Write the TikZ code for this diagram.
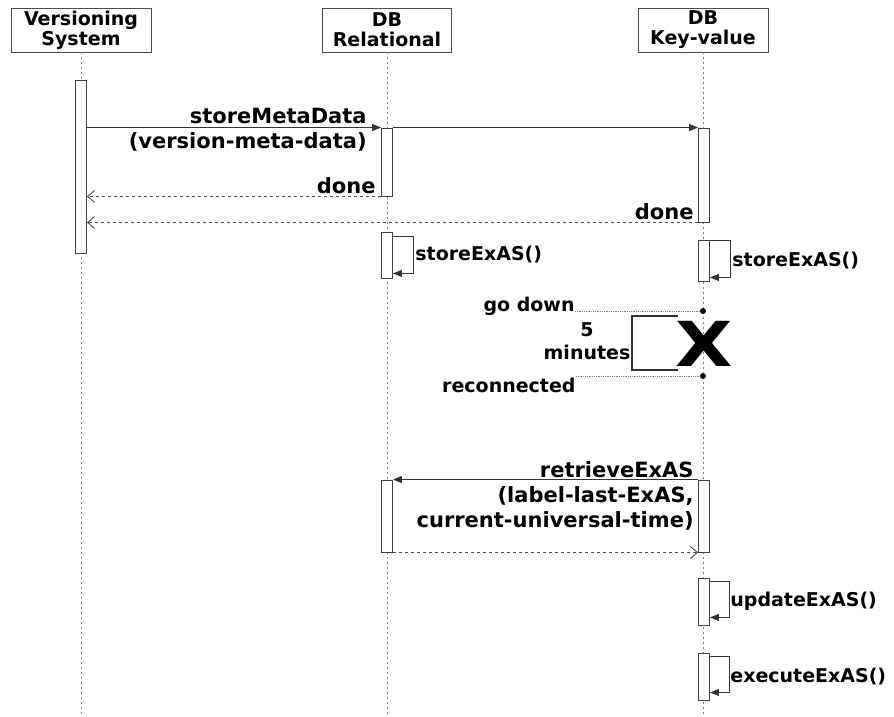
\documentclass[tikz,border=0pt]{standalone}
\usepackage{fontspec}
\setmainfont{DejaVu Sans}
\usepackage{tikz}
\usetikzlibrary{arrows.meta,positioning,calc}

\begin{document}
\begin{tikzpicture}[x=1pt,y=-1pt,line width=0.9pt,
    head/.style={draw=black!70,minimum width=#1,minimum height=44pt,inner sep=0pt,align=center,font=\fontsize{19}{20}\selectfont\bfseries},
    act/.style={draw=black!75,fill=white,minimum width=11pt,minimum height=#1,inner sep=0pt},
    life/.style={gray,dash pattern=on 2pt off 3pt},
    msg/.style={black!80,-{Triangle[length=9pt,width=7pt]}},
    ret/.style={black!70,dash pattern=on 3pt off 3pt,-{Straight Barb[length=7pt,width=12pt]}},
    lbl/.style={font=\fontsize{21}{25}\selectfont\bfseries,align=right,inner sep=0pt},
    small/.style={font=\fontsize{19}{23}\selectfont\bfseries,inner sep=0pt},
    note/.style={gray,densely dotted,line width=0.8pt},
    dot/.style={circle,fill,inner sep=0pt,minimum size=6pt}]
    \useasboundingbox (0,0) rectangle (894,717);
    \coordinate (bottom) at (0,717);
    % lifelines
    \node[head=140pt] (vs) at (81,30) {Versioning\\System};
    \node[head=129pt] (rel) at (387,30) {DB\\Relational};
    \node[head=130pt] (kv) at (703,30) {DB\\Key-value};
    \draw[life] (vs.south) -- (vs.south |- bottom);
    \draw[life] (rel.south) -- (rel.south |- bottom);
    \draw[life] (kv.south) -- (kv.south |- bottom);
    % activations
    \node[act=173pt] (vs1) at (81,166.5) {};
    \node[act=68pt] (rel1) at (387,162) {};
    \node[act=94pt] (kv1) at (704,175) {};
    \node[act=46pt] (rel2) at (387,255) {};
    \node[act=41pt] (kv2) at (704,260.5) {};
    \node[act=72pt] (rel3) at (387,516) {};
    \node[act=72pt] (kv3) at (704,516) {};
    \node[act=47pt] (kv4) at (704,601.5) {};
    \node[act=47pt] (kv5) at (704,676.5) {};
    % storeMetaData
    \draw[msg] (vs1.east |- rel1.north) -- (rel1.north west);
    \node (l1) [lbl,left=14pt of rel1.north west,yshift=-2pt] {storeMetaData\\(version-meta-data)};
    \draw[msg] (rel1.north east) -- (kv1.north west);
    \draw[ret] (rel1.south west) -- (vs1.east |- rel1.south);
    \node (d1) [lbl,above left=2pt and 5pt of rel1.south west] {done};
    \draw[ret] (kv1.south west) -- (vs1.east |- kv1.south);
    \node (d2) [lbl,above left=2pt and 4pt of kv1.south west] {done};
    % storeExAS
    \draw[msg] ([yshift=-5pt]rel2.north east) -- ++(20,0) |- ([yshift=5pt]rel2.south east);
    \node (s1) [small,right=22pt of rel2.east] {storeExAS()};
    \draw[msg] ([yshift=-1pt]kv2.north east) -- ++(20,0) |- ([yshift=4pt]kv2.south east);
    \node (s2) [small,right=22pt of kv2.east] {storeExAS()};
    % outage
    \node[dot] (gd) at (703,311) {};
    \node[small,anchor=base east] (gdl) at (575,311) {go down};
    \draw[note] (gdl.base east) -- (gd);
    \node[dot] (rc) at (703,376) {};
    \node[small,anchor=north east] (rcl) at (576,378) {reconnected};
    \draw[note] (rcl.north east |- rc) -- (rc);
    \draw[line width=2.5pt,black!80] (678,316) -| (632,370) -- (678,370);
    \node[small,align=center] (dur) at (587,341) {5\\minutes};
    \node[font=\fontsize{62}{62}\selectfont\bfseries,inner sep=0pt,xscale=1.2] (cross) at (704,344) {X};
    % retrieveExAS
    \draw[msg] (kv3.north west) -- (rel3.north east);
    \node (l2) [lbl,anchor=east] at ([xshift=-4pt,yshift=-16pt]kv3.north west) {retrieveExAS\\(label-last-ExAS,\\current-universal-time)};
    \draw[ret] (rel3.south east) -- (kv3.south west);
    % updateExAS, executeExAS
    \draw[msg] ([yshift=-4pt]kv4.north east) -- ++(19,0) |- ([yshift=8pt]kv4.south east);
    \node (s3) [small,right=20pt of kv4.east] {updateExAS()};
    \draw[msg] ([yshift=-4pt]kv5.north east) -- ++(19,0) |- ([yshift=8pt]kv5.south east);
    \node (s4) [small,right=20pt of kv5.east] {executeExAS()};
  \end{tikzpicture}
\end{document}
